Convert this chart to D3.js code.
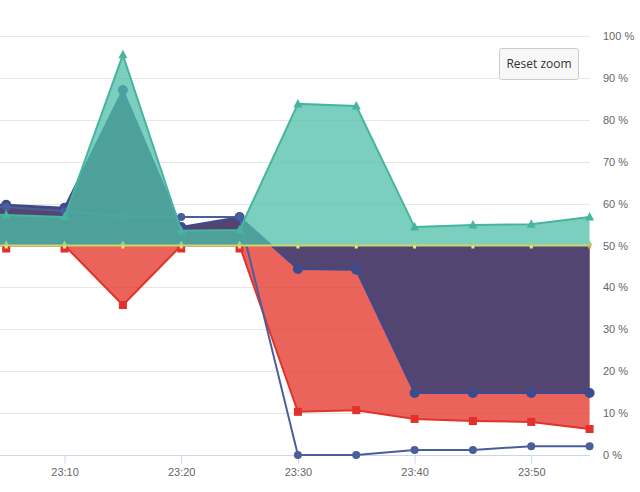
<!DOCTYPE html>
<html lang="en">
<head>
    <meta charset="UTF-8">
    <title>Threshold area chart</title>
    <style>
        body { margin: 0; background: #fff; }
        svg { display: block; font-family: "Open Sans", "DejaVu Sans", sans-serif; }
        .grid line { stroke: #e6e6e6; }
    </style>
</head>
<body>
    <div id="chart"></div>

    <script src="https://cdnjs.cloudflare.com/ajax/libs/d3/7.8.5/d3.min.js"></script>
    <script>
        // Chart values (percent)
        const times = ["23:00", "23:05", "23:10", "23:15", "23:20", "23:25", "23:30", "23:35", "23:40", "23:45", "23:50", "23:55"];
        const tealValues   = [57.5, 57.3, 56.8, 95.5, 53.5, 53.7, 83.8, 83.3, 54.4, 54.9, 55.1, 56.8];
        const navyValues   = [60.1, 59.7, 59.0, 87.1, 54.4, 56.8, 44.4, 44.2, 14.8, 14.8, 14.8, 14.8];
        const blueValues   = [59.5, 59.2, 58.2, 57.0, 56.8, 56.8, 0, 0, 1.2, 1.2, 2.1, 2.1];
        const redValues    = [50, 50, 50, 35.8, 50, 50, 10.3, 10.7, 8.6, 8.1, 7.9, 6.2];
        const greenValues  = [50, 50, 50, 50, 50, 50, 50, 50, 50, 50, 50, 50];
        const yellowValues = [50, 50, 50, 50, 50, 50, 50, 50, 50, 50, 50, 50];
        const yTicks = [0, 10, 20, 30, 40, 50, 60, 70, 80, 90, 100];
        const threshold = 50;

        const width = 640, height = 492;
        const plot = { left: 0, right: 590, top: 36, bottom: 455 };

        const parseTime = d3.timeParse("%H:%M");
        const dates = times.map(parseTime);

        // x scale: 23:05 sits just inside the left edge, 23:55 at the right edge
        const x = d3.scaleTime()
            .domain([parseTime("23:05"), parseTime("23:55")])
            .range([6.2, 589.6]);
        x.domain([x.invert(plot.left), x.invert(plot.right)]).range([plot.left, plot.right]);

        const y = d3.scaleLinear()
            .domain([0, 100])
            .range([plot.bottom, plot.top]);

        const svg = d3.select("#chart")
            .append("svg")
            .attr("width", width)
            .attr("height", height);

        svg.append("defs").append("clipPath")
            .attr("id", "plot-clip")
            .append("rect")
            .attr("x", plot.left)
            .attr("y", 0)
            .attr("width", plot.right - plot.left)
            .attr("height", plot.bottom + 2);

        // grid lines
        svg.append("g")
            .attr("class", "grid")
            .selectAll("line")
            .data(yTicks.filter(d => d > 0))
            .enter()
            .append("line")
            .attr("x1", plot.left)
            .attr("x2", plot.right)
            .attr("y1", d => Math.round(y(d)) + 0.5)
            .attr("y2", d => Math.round(y(d)) + 0.5);

        // y axis labels on the right
        const yAxis = d3.axisRight(y)
            .tickValues(yTicks)
            .tickSize(0)
            .tickPadding(0)
            .tickFormat(d => d + " %");

        svg.append("g")
            .attr("transform", "translate(603,0)")
            .call(yAxis)
            .call(g => g.select(".domain").remove())
            .call(g => g.selectAll("text")
                .attr("fill", "#666")
                .attr("font-size", 11)
                .attr("font-family", null));

        // x axis
        const xAxis = d3.axisBottom(x)
            .ticks(d3.timeMinute.every(10))
            .tickFormat(d3.timeFormat("%H:%M"))
            .tickSize(8)
            .tickPadding(5);

        svg.append("g")
            .attr("transform", "translate(0," + (plot.bottom + 0.5) + ")")
            .call(xAxis)
            .call(g => g.select(".domain").attr("stroke", "#ccd6eb").attr("d", "M" + plot.left + ",0H" + plot.right))
            .call(g => g.selectAll(".tick line").attr("stroke", "#ccd6eb"))
            .call(g => g.selectAll("text")
                .attr("fill", "#666")
                .attr("font-size", 11)
                .attr("font-family", null));

        const area = values => d3.area()
            .x((d, i) => x(dates[i]))
            .y0(y(threshold))
            .y1(d => y(d))(values);

        const line = values => d3.line()
            .x((d, i) => x(dates[i]))
            .y(d => y(d))(values);

        // each series gets its own layer; areas and lines are clipped, markers are not
        function layer() {
            const g = svg.append("g");
            return { shapes: g.append("g").attr("clip-path", "url(#plot-clip)"), marks: g.append("g") };
        }

        // red area (bottom layer)
        const red = layer();
        red.shapes.append("path")
            .attr("d", area(redValues))
            .attr("fill", "#e53d33")
            .attr("fill-opacity", 0.8);
        red.shapes.append("path")
            .attr("d", line(redValues))
            .attr("fill", "none")
            .attr("stroke", "#e0332b")
            .attr("stroke-width", 2);
        red.marks.selectAll("rect")
            .data(redValues)
            .enter()
            .append("rect")
            .attr("x", (d, i) => x(dates[i]) - 4)
            .attr("y", d => y(d) - 4 + (d === threshold ? 3 : 0))
            .attr("width", 8)
            .attr("height", 8)
            .attr("fill", "#e2302a");

        // navy area
        const navy = layer();
        navy.shapes.append("path")
            .attr("d", area(navyValues))
            .attr("fill", "#524572");
        navy.shapes.append("path")
            .attr("d", line(navyValues))
            .attr("fill", "none")
            .attr("stroke", "#3e4a8c")
            .attr("stroke-width", 2);
        navy.marks.selectAll("circle")
            .data(navyValues)
            .enter()
            .append("circle")
            .attr("cx", (d, i) => x(dates[i]))
            .attr("cy", d => y(d))
            .attr("r", 5)
            .attr("fill", "#3c4b8e");

        // blue line
        const blue = layer();
        blue.shapes.append("path")
            .attr("d", line(blueValues))
            .attr("fill", "none")
            .attr("stroke", "#4a5e9c")
            .attr("stroke-width", 2);
        blue.marks.selectAll("circle")
            .data(blueValues)
            .enter()
            .append("circle")
            .attr("cx", (d, i) => x(dates[i]))
            .attr("cy", d => y(d))
            .attr("r", 4)
            .attr("fill", "#4a5e9c");

        // teal area (semi transparent, on top)
        const teal = layer();
        teal.shapes.append("path")
            .attr("d", area(tealValues))
            .attr("fill", "#4dbfa8")
            .attr("fill-opacity", 0.75);
        teal.shapes.append("path")
            .attr("d", line(tealValues))
            .attr("fill", "none")
            .attr("stroke", "#47b59d")
            .attr("stroke-width", 2);
        teal.marks.selectAll("path")
            .data(tealValues)
            .enter()
            .append("path")
            .attr("transform", (d, i) => "translate(" + x(dates[i]) + "," + y(d) + ")")
            .attr("d", "M0,-5L4.5,3.5L-4.5,3.5Z")
            .attr("fill", "#47b59d");

        // 50 % lines
        const base = layer();
        base.shapes.append("path")
            .attr("d", line(yellowValues))
            .attr("fill", "none")
            .attr("stroke", "#d3d46c")
            .attr("stroke-width", 2);
        base.marks.selectAll(".green-marker")
            .data(greenValues)
            .enter()
            .append("path")
            .attr("class", "green-marker")
            .attr("transform", (d, i) => "translate(" + x(dates[i]) + "," + (y(d) - 2) + ")")
            .attr("d", "M0,-3L3,2L-3,2Z")
            .attr("fill", "#95d28c");
        base.marks.selectAll(".yellow-marker")
            .data(yellowValues)
            .enter()
            .append("rect")
            .attr("class", "yellow-marker")
            .attr("x", (d, i) => x(dates[i]) - 1.5)
            .attr("y", d => y(d))
            .attr("width", 3)
            .attr("height", 3)
            .attr("fill", (d, i) => i === yellowValues.length - 1 ? "#e8a23a" : "#f2e27a");

        // reset zoom button
        const button = svg.append("g").attr("transform", "translate(499.5,48.5)");
        button.append("rect")
            .attr("width", 79)
            .attr("height", 31)
            .attr("rx", 2)
            .attr("fill", "#f7f7f7")
            .attr("stroke", "#cccccc");
        button.append("text")
            .attr("x", 39.5)
            .attr("y", 19.5)
            .attr("text-anchor", "middle")
            .attr("font-size", 12)
            .attr("fill", "#333")
            .text("Reset zoom");
    </script>
</body>
</html>
